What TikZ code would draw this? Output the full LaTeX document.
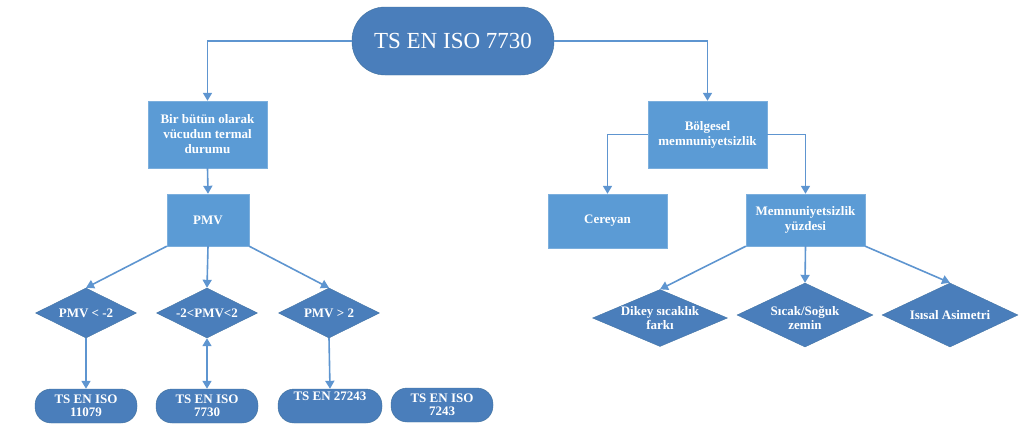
\documentclass[tikz,border=0pt]{standalone}
\usepackage{fontspec}
\setmainfont{Liberation Serif}
\usepackage{tikz}
\usetikzlibrary{shapes.geometric,arrows.meta}

\definecolor{boxblue}{HTML}{5B9BD5}
\definecolor{darkblue}{HTML}{4A7EBB}
\definecolor{edgeblue}{HTML}{41719C}
\definecolor{lineblue}{HTML}{5E95D0}

\begin{document}
\begin{tikzpicture}[x=1pt,y=-1pt]
			\tikzstyle{every node}+=[inner sep=0pt, text=white, align=center]
			\tikzstyle{blok}=[draw=boxblue!80!white, fill=boxblue, font=\fontsize{13}{15}\selectfont\bfseries]
			\tikzstyle{hap}=[draw=edgeblue, fill=darkblue, rounded corners=16pt, minimum width=102pt, minimum height=34pt, font=\fontsize{13}{13.5}\selectfont\bfseries]
			\tikzstyle{karar}=[diamond, draw=edgeblue!70!darkblue, fill=darkblue]
			\tikzstyle{yazi}=[font=\fontsize{13}{13.5}\selectfont\bfseries]
			\tikzstyle{ok}=[draw=lineblue, line width=1.6pt, -{Triangle[width=9pt,length=8pt]}]
			\useasboundingbox (0,0) rectangle (1024,439);
			% ust
			\node [draw=edgeblue, fill=darkblue, rounded corners=33pt, minimum width=202pt, minimum height=68pt, font=\fontsize{23}{25}\selectfont] (ust) at (453,41) {TS EN ISO 7730};
			% sol dal
			\node [blok, minimum width=119pt, minimum height=67pt] (vucut) at (207.5,134.5) {Bir bütün olarak\\vücudun termal\\durumu};
			\node [blok, minimum width=82pt, minimum height=52pt] (pmv) at (208,220) {PMV};
			\node [karar, minimum width=101pt, minimum height=50pt] (k1) at (86,313) {};
			\node [yazi] (k1y) at (k1) {PMV < -2};
			\node [karar, minimum width=101pt, minimum height=50pt] (k2) at (207,313) {};
			\node [yazi] (k2y) at (k2) {-2<PMV<2};
			\node [karar, minimum width=101pt, minimum height=50pt] (k3) at (329,313) {};
			\node [yazi] (k3y) at (k3) {PMV > 2};
			\node [hap] (h1) at (86,406) {TS EN ISO\\11079};
			\node [hap] (h2) at (207,406) {TS EN ISO\\7730};
			\node [hap, minimum width=104pt] (h3) at (330,406) {TS EN 27243\\[2pt]\strut};
			\node [hap] (h4) at (442,405) {TS EN ISO\\7243};
			% sag dal
			\node [blok, minimum width=119pt, minimum height=67pt] (bolge) at (707.5,134.5) {Bölgesel\\memnuniyetsizlik};
			\node [blok, minimum width=119pt, minimum height=54pt] (cer) at (607.5,221) {Cereyan};
			\node [blok, minimum width=119pt, minimum height=52pt] (yuzde) at (805.5,220) {Memnuniyetsizlik\\yüzdesi};
			\node [karar, minimum width=135pt, minimum height=57pt] (r1) at (660,318) {};
			\node [yazi] (r1y) at (r1) {Dikey sıcaklık\\farkı};
			\node [karar, minimum width=136pt, minimum height=64pt] (r2) at (805,315) {};
			\node [yazi] (r2y) at ([yshift=-3pt]r2) {Sıcak/Soğuk\\zemin};
			\node [karar, minimum width=136pt, minimum height=64pt] (r3) at (950,315) {};
			\node [yazi] (r3y) at (r3) {Isısal Asimetri};
			% oklar
			\draw [ok] (ust.west) -| (vucut.north);
			\draw [ok] (ust.east) -| (bolge.north);
			\draw [ok] (vucut.south) -- (pmv.north);
			\draw [ok] (pmv.south west) -- (k1.north);
			\draw [ok] (pmv.south) -- (k2.north);
			\draw [ok] (pmv.south east) -- (k3.north);
			\draw [ok] (k1.south) -- (h1.north);
			\draw [ok, {Triangle[width=9pt,length=8pt]}-{Triangle[width=9pt,length=8pt]}] (k2.south) -- (h2.north);
			\draw [ok] (k3.south) -- (h3.north);
			\draw [ok] (bolge.west) -| (cer.north);
			\draw [ok] (bolge.east) -| (yuzde.north);
			\draw [ok] (yuzde.south west) -- (r1.north);
			\draw [ok] (yuzde.south) -- (r2.north);
			\draw [ok] (yuzde.south east) -- (r3.north);
		\end{tikzpicture}
\end{document}
